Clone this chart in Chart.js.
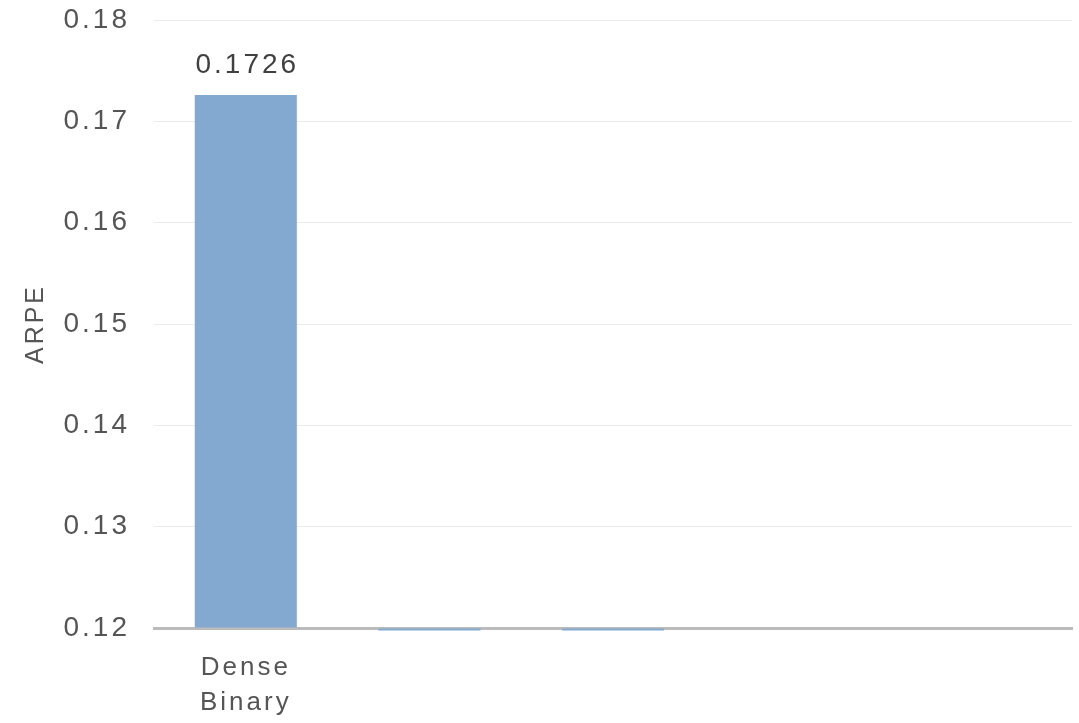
<!DOCTYPE html>
<html>
<head>
<meta charset="utf-8">
<script src="https://cdn.jsdelivr.net/npm/chart.js@4/dist/chart.umd.min.js"></script>
<style>
  html, body { margin: 0; padding: 0; background: #ffffff; }
  #wrap { width: 1079px; height: 723px; position: relative; }
</style>
</head>
<body>
<div id="wrap"><canvas id="chart"></canvas></div>
<script>
// Categories (only the first one carries a label)
const categories = [['Dense', 'Binary'], '', '', '', ''];
// ARPE per category; values under the axis minimum sit below the baseline
const arpeValues = [0.1726, 0.1150, 0.1160, null, null];
// Y axis range and tick step
const yMin = 0.12;
const yMax = 0.18;
const yStep = 0.01;

const FONT = "'Liberation Sans', Arial, Helvetica, sans-serif";
const SPACING = '3px';

// Wider letter spacing for all canvas text
const spacingPlugin = {
  id: 'spacing',
  beforeUpdate(chart) { chart.ctx.letterSpacing = SPACING; },
  beforeDraw(chart) { chart.ctx.letterSpacing = SPACING; }
};

// Value label above each visible bar
const valueLabels = {
  id: 'valueLabels',
  afterDatasetsDraw(chart) {
    const ctx = chart.ctx;
    const meta = chart.getDatasetMeta(0);
    const data = chart.data.datasets[0].data;
    ctx.save();
    ctx.letterSpacing = SPACING;
    ctx.font = '28px ' + FONT;
    ctx.fillStyle = '#404040';
    ctx.textAlign = 'center';
    ctx.textBaseline = 'middle';
    meta.data.forEach((bar, i) => {
      const v = data[i];
      if (v === null || v < yMin) return;
      ctx.fillText(v.toFixed(4), bar.x + 1.5, bar.y - 30);
    });
    ctx.restore();
  }
};

new Chart(document.getElementById('chart'), {
  type: 'bar',
  data: {
    labels: categories,
    datasets: [{
      data: arpeValues,
      base: yMin,
      backgroundColor: '#84a9d1',
      borderWidth: 0,
      barPercentage: 0.556,
      categoryPercentage: 1.0,
      clip: { left: 0, right: 0, top: 0, bottom: 2.5 }
    }]
  },
  options: {
    responsive: true,
    maintainAspectRatio: false,
    animation: false,
    layout: { padding: { left: 0, right: 7, top: 20, bottom: 0 } },
    plugins: {
      legend: { display: false },
      tooltip: { enabled: false }
    },
    scales: {
      x: {
        grid: { display: false, drawTicks: false },
        border: { display: true, color: '#bbbbbb', width: 3 },
        ticks: {
          color: '#555555',
          padding: 22,
          maxRotation: 0,
          autoSkip: false,
          font: { family: FONT, size: 26, lineHeight: 1.35 }
        },
        afterFit(scale) {
          scale.height = 95;
          scale.paddingLeft = 0;
          scale.paddingRight = 0;
        }
      },
      y: {
        min: yMin,
        max: yMax,
        grid: { color: '#ebebeb', lineWidth: 1, drawTicks: false },
        border: { display: false },
        ticks: {
          stepSize: yStep,
          color: '#555555',
          padding: 24,
          font: { family: FONT, size: 28 },
          callback: (v) => v.toFixed(2)
        },
        title: {
          display: true,
          text: 'ARPE',
          color: '#555555',
          padding: { top: 21, bottom: 0 },
          font: { family: FONT, size: 25 }
        },
        afterFit(scale) {
          scale.width = 154;
          scale.paddingTop = 0;
          scale.paddingBottom = 0;
        }
      }
    }
  },
  plugins: [spacingPlugin, valueLabels]
});
</script>
</body>
</html>
